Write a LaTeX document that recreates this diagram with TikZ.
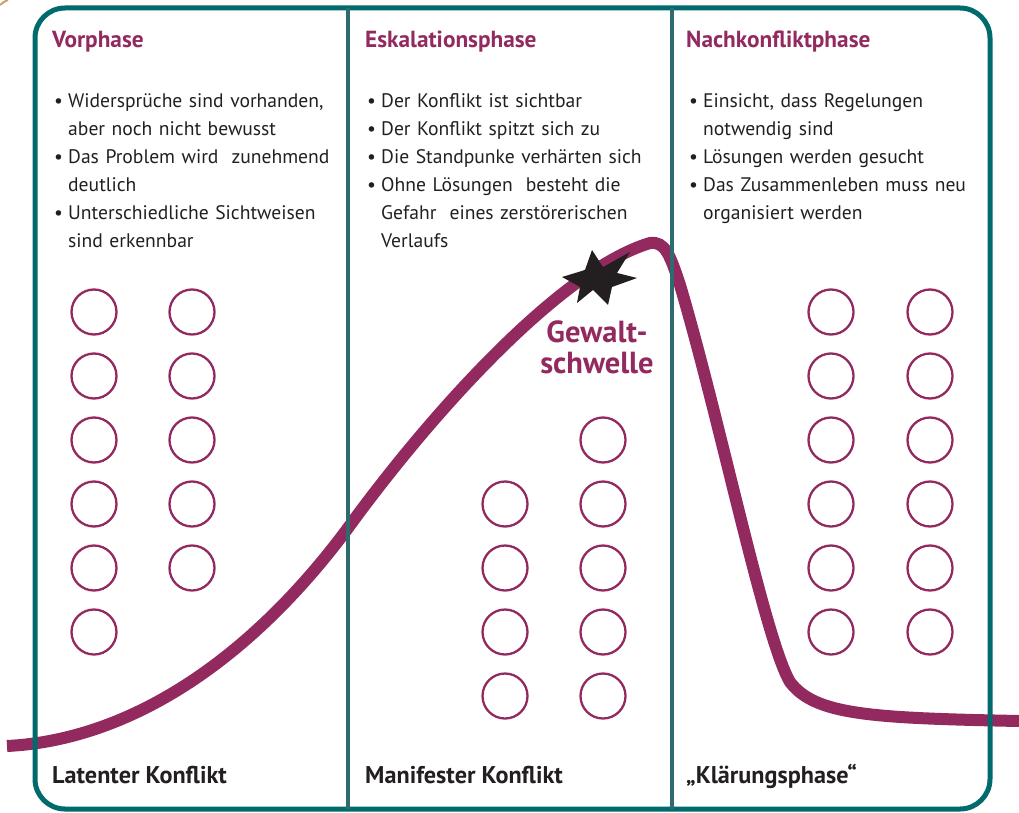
\documentclass[tikz,border=0pt]{standalone}
\usepackage{fontspec}
\setmainfont{PT Sans}
\usepackage{xcolor}
\usepackage{tikz}
\definecolor{boxteal}{HTML}{006A6C}
\definecolor{lineteal}{HTML}{2E6B6E}
\definecolor{curvepurple}{HTML}{932A5F}
\definecolor{inkdark}{HTML}{231F20}
\definecolor{cornertan}{HTML}{C9A266}
\newcommand\bul{\makebox[14pt][l]{\textbullet}}
\newcommand\ind{\hspace*{14pt}}
\tikzstyle{outerbox}=[draw=boxteal,line width=5pt,rounded corners=30pt]
\tikzstyle{divider}=[draw=lineteal,line width=4.5pt]
\tikzstyle{curve}=[draw=curvepurple,line width=12pt]
\tikzstyle{ring}=[circle,draw=curvepurple,line width=2.3pt,minimum size=45pt,inner sep=0pt]
\tikzstyle{phasetitle}=[anchor=base west,inner sep=0pt,text=curvepurple,font=\fontsize{23.3}{27}\selectfont\bfseries]
\tikzstyle{phaselist}=[anchor=base west,inner sep=0pt,text width=300pt,align=left,text=inkdark,font=\fontsize{19.6}{28}\selectfont]
\tikzstyle{stage}=[anchor=base west,inner sep=0pt,text=inkdark,font=\fontsize{24.2}{28}\selectfont\bfseries]
\tikzstyle{threshold}=[anchor=base,inner sep=0pt,align=center,text=curvepurple,font=\fontsize{30.5}{31}\selectfont\bfseries]

\begin{document}
\begin{tikzpicture}[x=1pt,y=-1pt]
	\useasboundingbox (0,0) rectangle (1019,813);
	\draw[cornertan,line width=2pt] (0,5) to[bend left=10] (8,0);
	% curve first, the frame lies on top of it
	\draw[curve] (7,746) .. controls (130,740) and (250,660) .. (348,528)
		.. controls (430,415) and (560,270) .. (650,243)
		.. controls (665,241) and (670,255) .. (680,285)
		.. controls (720,420) and (765,640) .. (790,682)
		.. controls (815,715) and (870,718) .. (1019,721);
	\fill[inkdark] (592,250) -- (603,267) -- (630,252) -- (617,273) -- (637,278) -- (612,287)
		-- (608,305) -- (593,290) -- (577,303) -- (580,287) -- (562,277) -- (585,270) -- cycle;
	\draw[outerbox] (35,8) rectangle (990,809);
	\draw[divider] (348,8) -- (348,809);
	\draw[divider] (672,8) -- (672,809);
	% titles
	\node[phasetitle] (vor)  at (52,48)  {Vorphase};
	\node[phasetitle] (eska) at (365,48) {Eskalationsphase};
	\node[phasetitle] (nach) at (686,48) {Nachkonfliktphase};
	\node[phaselist] (vorlist) at (54,108) {\bul Widersprüche sind vorhanden,\\ \ind aber noch nicht bewusst\\ \bul Das Problem wird\ \ zunehmend\\ \ind deutlich\\ \bul Unterschiedliche Sichtweisen\\ \ind sind erkennbar};
	\node[phaselist] (eskalist) at (367,108) {\bul Der Konflikt ist sichtbar\\ \bul Der Konflikt spitzt sich zu\\ \bul Die Standpunke verhärten sich\\ \bul Ohne Lösungen\ \ besteht die\\ \ind Gefahr\ \ eines zerstörerischen\\ \ind Verlaufs};
	\node[phaselist] (nachlist) at (689,108) {\bul Einsicht, dass Regelungen\\ \ind notwendig sind\\ \bul Lösungen werden gesucht\\ \bul Das Zusammenleben muss neu\\ \ind organisiert werden};
	% people
	\foreach \k in {0,...,5} {
		\node[ring] (vl-\k) at (94,312+64*\k) {};
		\node[ring] (nl-\k) at (831,312+64*\k) {};
		\node[ring] (nr-\k) at (930,312+64*\k) {};
	}
	\foreach \k in {0,...,4} \node[ring] (vr-\k) at (192,312+64*\k) {};
	\foreach \k in {3,...,6} \node[ring] (el-\k) at (505,312+64*\k) {};
	\foreach \k in {2,...,6} \node[ring] (er-\k) at (603,312+64*\k) {};
	\node[threshold] (gewalt) at (597,373) {Gewalt-\\schwelle};
	% stages
	\node[stage] (latent)   at (52,783)  {Latenter Konflikt};
	\node[stage] (manifest) at (365,783) {Manifester Konflikt};
	\node[stage] (klaerung) at (686,783) {„Klärungsphase“};
\end{tikzpicture}
\end{document}
